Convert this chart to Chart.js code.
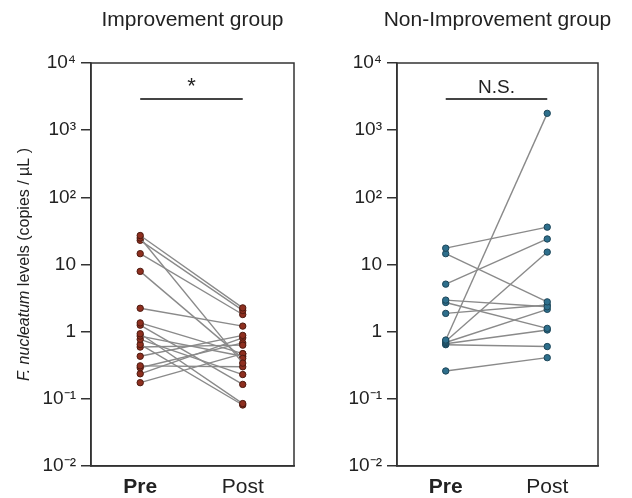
<!DOCTYPE html>
<html>
<head>
<meta charset="utf-8">
<script src="https://cdn.jsdelivr.net/npm/chart.js@4.4.1/dist/chart.umd.min.js"></script>
<style>
  body { margin: 0; background: #fff; }
  .panel { position: absolute; top: 0; height: 498px; }
</style>
</head>
<body>
<div class="panel" style="left:0px;width:300px"><canvas id="impChart"></canvas></div>
<div class="panel" style="left:306px;width:326px"><canvas id="nonChart"></canvas></div>
<script>
// values (copies / uL), paired pre -> post
var impPre  = [27, 24.8, 22.9, 14.5, 7.9, 2.23, 1.35, 1.25, 0.93, 0.86, 0.77, 0.645, 0.59, 0.43, 0.31, 0.29, 0.236, 0.174];
var impPost = [2.26, 0.34, 2.07, 1.8, 0.4, 1.21, 0.47, 0.164, 0.085, 0.43, 0.23, 0.081, 0.63, 0.88, 0.3, 0.68, 0.81, 0.47];

var nonPre  = [17.5, 14.5, 5.1, 2.95, 2.72, 1.87, 0.75, 0.72, 0.69, 0.66, 0.64, 0.26];
var nonPost = [36, 2.78, 24, 2.35, 1.12, 2.5, 1780, 15.3, 2.15, 1.06, 0.6, 0.41];

var categories = ["Pre", "Post"];
var tickValues = [0.01, 0.1, 1, 10, 100, 1000, 10000];
var tickLabels = ["10\u207B\u00B2", "10\u207B\u00B9", "1", "10", "10\u00B2", "10\u00B3", "10\u2074"];

var FONT = "'Liberation Sans', Arial, sans-serif";
var TEXT = "#222";

//turn pre/post arrays into one line per subject
function makePairs(pre, post, fill, edge){
    var sets = [];
    for(var i = 0; i < pre.length; i++){
        sets.push({
            data: [{x: 1, y: pre[i]}, {x: 2, y: post[i]}],
            showLine: true,
            borderColor: "#8a8a8a",
            borderWidth: 1.4,
            pointBackgroundColor: fill,
            pointBorderColor: edge,
            pointBorderWidth: 1,
            pointRadius: 3.2
        });
    }
    return sets;
}

//box, group title and significance bar
function decorPlugin(title, sigText, sigSize, drawYTitle){
    return {
        id: "decor",
        afterDraw: function(chart){
            var c = chart.ctx, a = chart.chartArea;
            var xs = chart.scales.x;
            c.save();
            c.strokeStyle = "#333";
            c.lineWidth = 1.5;
            c.strokeRect(a.left, a.top, a.right - a.left, a.bottom - a.top);

            c.fillStyle = TEXT;
            c.textAlign = "center";
            c.textBaseline = "middle";
            c.font = "21px " + FONT;
            c.fillText(title, (a.left + a.right) / 2, 20);

            //significance bar
            var x1 = xs.getPixelForValue(1), x2 = xs.getPixelForValue(2);
            c.strokeStyle = "#444";
            c.lineWidth = 2;
            c.beginPath();
            c.moveTo(x1, a.top + 36);
            c.lineTo(x2, a.top + 36);
            c.stroke();
            c.font = sigSize + "px " + FONT;
            c.textBaseline = "alphabetic";
            c.fillText(sigText, (x1 + x2) / 2, a.top + 30);

            if(drawYTitle){
                var part1 = "F. nucleatum", part2 = " levels (copies / \u00B5L )";
                c.translate(25, (a.top + a.bottom) / 2);
                c.rotate(-Math.PI / 2);
                c.textBaseline = "middle";
                c.font = "italic 16px " + FONT;
                var w1 = c.measureText(part1).width;
                c.font = "16px " + FONT;
                var w2 = c.measureText(part2).width;
                var start = -(w1 + w2) / 2;
                c.textAlign = "left";
                c.font = "italic 16px " + FONT;
                c.fillText(part1, start, 0);
                c.font = "16px " + FONT;
                c.fillText(part2, start + w1, 0);
            }
            c.restore();
        }
    };
}

function makeChart(id, pre, post, fill, edge, title, sigText, sigSize, drawYTitle, rightPad){
    return new Chart(document.getElementById(id), {
        type: "scatter",
        data: { datasets: makePairs(pre, post, fill, edge) },
        options: {
            responsive: true,
            maintainAspectRatio: false,
            animation: false,
            layout: { padding: { top: 63, right: rightPad, bottom: 0, left: 0 } },
            plugins: { legend: { display: false }, tooltip: { enabled: false } },
            scales: {
                x: {
                    type: "linear",
                    min: 0.52,
                    max: 2.5,
                    afterBuildTicks: function(s){ s.ticks = [{value: 1}, {value: 2}]; },
                    afterFit: function(s){ s.height = 32; },
                    grid: { display: false },
                    border: { display: true, color: "#333", width: 1.5 },
                    ticks: {
                        color: TEXT,
                        padding: 1,
                        callback: function(v){ return categories[v - 1]; },
                        font: function(ctx){
                            return { family: FONT, size: 21, weight: ctx.index === 0 ? "bold" : "normal" };
                        }
                    }
                },
                y: {
                    type: "logarithmic",
                    min: 0.01,
                    max: 10000,
                    afterBuildTicks: function(s){
                        s.ticks = tickValues.map(function(v){ return {value: v}; });
                    },
                    afterFit: function(s){ s.width = 91; },
                    grid: { drawOnChartArea: false, drawTicks: true, tickLength: 10, color: "#333", lineWidth: 1.5 },
                    border: { display: true, color: "#333", width: 1.5 },
                    ticks: {
                        color: TEXT,
                        padding: 5,
                        font: { family: FONT, size: 19 },
                        callback: function(v){ return tickLabels[tickValues.indexOf(v)]; }
                    }
                }
            }
        },
        plugins: [decorPlugin(title, sigText, sigSize, drawYTitle)]
    });
}

makeChart("impChart", impPre, impPost, "#8e2f1f", "#4d1a10", "Improvement group", "*", 22, true, 6);
makeChart("nonChart", nonPre, nonPost, "#2e6f8c", "#1c4558", "Non-Improvement group", "N.S.", 19, false, 34);
</script>
</body>
</html>
